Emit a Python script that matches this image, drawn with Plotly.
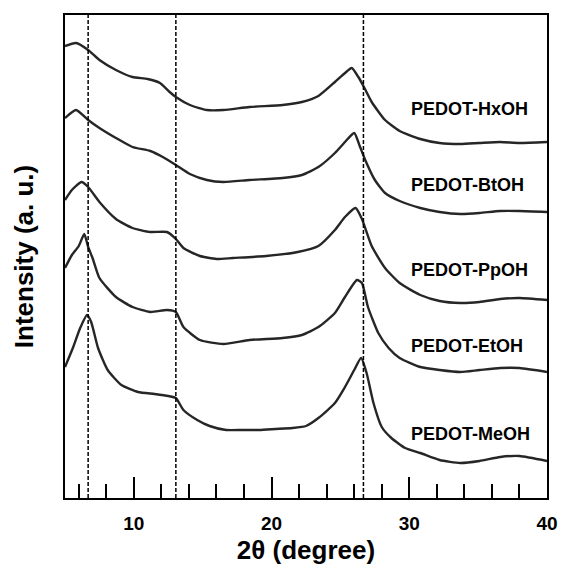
import plotly.graph_objects as go

# ---- data (x in degrees 2θ, y in arbitrary offset intensity units) ----
hx_x = [5.0, 5.8, 6.68, 7.5, 8.7, 9.9, 11.0, 11.9, 12.6, 13.05, 14.07, 15.3, 16.5, 18.4, 20.8, 22.2, 23.4,
        24.6, 25.33, 25.82, 26.3, 26.67, 27.27, 28.24, 29.3, 30.8, 32.2, 33.7, 35.1, 36.6, 38.0, 40.0]
hx_y = [452, 455, 448, 438, 428, 421, 419, 415, 406, 401, 393, 388, 388, 391, 393, 396, 402,
        416, 425, 430, 421, 412, 396, 378, 367, 359, 355, 354, 355, 356, 355, 356]

bt_x = [5.0, 5.8, 6.68, 7.5, 8.7, 9.9, 11.2, 12.1, 13.05, 14.07, 15.3, 16.5, 18.4, 20.8, 22.2, 23.4,
        24.6, 25.33, 26.0, 26.4, 26.8, 27.5, 28.24, 29.3, 30.8, 32.2, 33.7, 35.1, 36.6, 38.0, 40.0]
bt_y = [380, 388, 378, 370, 360, 351, 347, 341, 333, 324, 318, 316, 318, 320, 323, 331,
        345, 356, 365, 352, 338, 318, 305, 297, 290, 286, 284, 285, 287, 287, 286]

pp_x = [5.0, 5.5, 6.2, 6.68, 7.5, 8.7, 9.9, 11.2, 12.4, 13.05, 13.6, 14.8, 16.0, 17.2, 19.6, 21.9,
        23.4, 24.6, 25.33, 26.1, 26.56, 27.27, 28.24, 29.3, 30.8, 32.2, 33.7, 35.1, 36.6, 38.0, 40.0]
pp_y = [298, 308, 316, 311, 296, 279, 270, 266, 266, 259, 250, 242, 239, 240, 242, 246,
        252, 268, 281, 290, 279, 252, 230, 215, 203, 197, 195, 196, 199, 200, 198]

et_x = [5.0, 5.5, 6.0, 6.4, 6.68, 7.0, 7.5, 8.7, 9.9, 11.2, 12.4, 13.05, 13.6, 14.8, 16.5, 18.4,
        20.8, 22.2, 23.4, 24.6, 25.33, 26.2, 26.56, 27.0, 27.75, 28.5, 29.3, 30.8, 32.2, 33.7,
        35.1, 36.6, 38.0, 40.0]
et_y = [230, 243, 252, 264, 251, 240, 220, 201, 191, 186, 188, 186, 171, 158, 154, 158,
        160, 163, 171, 185, 201, 218, 215, 191, 165, 150, 140, 131, 128, 126,
        128, 130, 130, 126]

me_x = [5.0, 5.6, 6.1, 6.6, 6.9, 7.4, 8.1, 9.1, 10.3, 11.5, 12.5, 13.05, 13.6, 14.6, 15.5, 16.7,
        17.9, 19.1, 20.3, 21.5, 22.5, 23.4, 24.6, 25.33, 26.0, 26.5, 26.9, 27.4, 28.0, 28.7, 29.7,
        30.8, 32.2, 33.7, 35.1, 36.6, 38.0, 40.0]
me_y = [131, 151, 170, 183, 176, 150, 128, 113, 106, 104, 102, 100, 88, 78, 72, 68,
        68, 68, 69, 70, 72, 80, 95, 111, 128, 140, 125, 95, 71, 60, 50,
        45, 38, 35, 37, 41, 42, 37]

series_names = ["PEDOT-HxOH", "PEDOT-BtOH", "PEDOT-PpOH", "PEDOT-EtOH", "PEDOT-MeOH"]
series_x = [hx_x, bt_x, pp_x, et_x, me_x]
series_y = [hx_y, bt_y, pp_y, et_y, me_y]
label_x = 30.0
label_y = [389, 313, 228, 152, 64]

ref_lines = [6.68, 13.05, 26.67]
x_ticks = [10, 20, 30, 40]

FONT = "Liberation Sans, Arial, sans-serif"

fig = go.Figure()
for name, xs, ys in zip(series_names, series_x, series_y):
    fig.add_trace(go.Scatter(x=xs, y=ys, mode="lines", name=name,
                             line=dict(color="#262626", width=2.4, shape="spline", smoothing=0.55),
                             showlegend=False, hoverinfo="skip"))

for xv in ref_lines:
    fig.add_vline(x=xv, line=dict(color="black", width=1.5, dash="4px,2px"), layer="above")

for name, yv in zip(series_names, label_y):
    fig.add_annotation(x=label_x, y=yv, text=name, showarrow=False, xanchor="left", yanchor="middle",
                       font=dict(family=FONT, size=18, color="black", weight="bold"))

fig.update_layout(
    width=561, height=580,
    margin=dict(l=65, r=14, t=15, b=82, autoexpand=False),
    paper_bgcolor="white", plot_bgcolor="white",
    font=dict(family=FONT, color="black"),
)
fig.update_xaxes(
    range=[5, 40], showgrid=False, zeroline=False, automargin=False,
    showline=True, linecolor="black", linewidth=2, mirror=True,
    ticks="inside", ticklen=21, tickwidth=2, tickcolor="black",
    tickvals=x_ticks, ticktext=[str(v) for v in x_ticks],
    tickfont=dict(family=FONT, size=19, weight="bold"),
    ticklabelstandoff=7,
    minor=dict(ticks="inside", ticklen=14, tickwidth=2, tickcolor="black", dtick=2, tick0=0),
    title=dict(text="2θ (degree)", font=dict(family=FONT, size=26, weight="bold"), standoff=8),
)
fig.update_yaxes(
    range=[0, 483], showgrid=False, zeroline=False, automargin=False,
    showline=True, linecolor="black", linewidth=2, mirror=True,
    ticks="", showticklabels=False,
    title=dict(text="Intensity (a. u.)", font=dict(family=FONT, size=26, weight="bold"), standoff=22),
)

fig.write_html("out.html")
